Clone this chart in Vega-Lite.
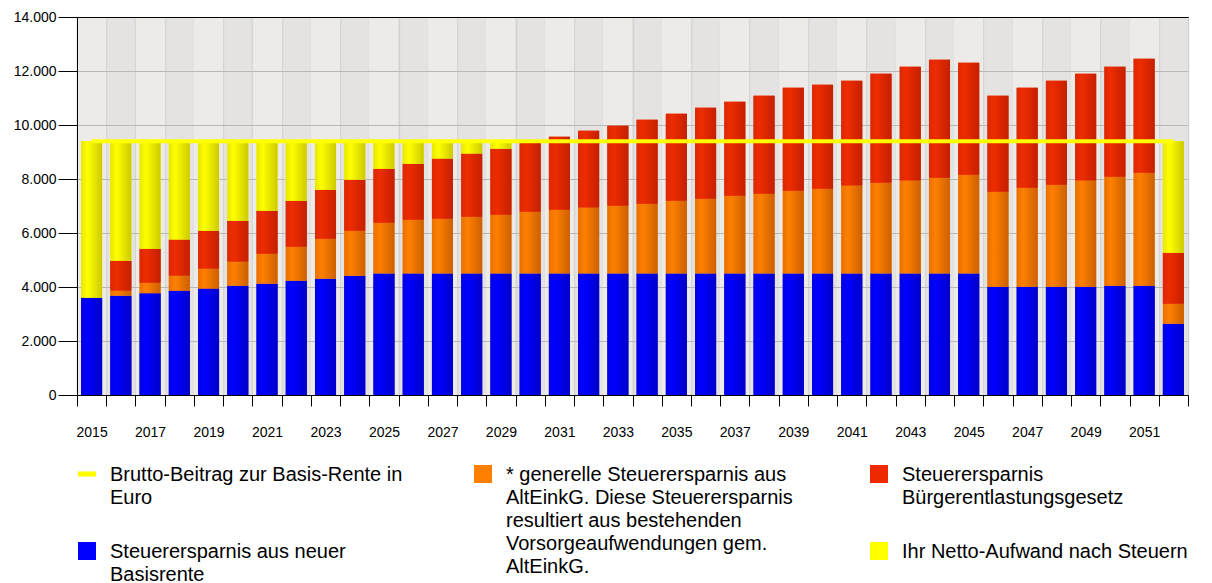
{
  "$schema": "https://vega.github.io/schema/vega-lite/v6.json",
  "width": 1111,
  "height": 378,
  "autosize": {"type": "none"},
  "padding": {"left": 77, "top": 17, "right": 24, "bottom": 188},
  "background": "white",
  "config": {
    "font": "Liberation Sans",
    "view": {"fill": "#E4E3E1", "stroke": "#000000", "strokeWidth": 1},
    "axis": {"labelFont": "Liberation Sans", "labelColor": "#000000", "domainColor": "#000000", "tickColor": "#000000"}
  },
  "data": {
    "values": [
      {"year": 2015, "s1_basis": 3600, "s2_generell": 0, "s3_buerger": 0, "s4_netto": 5800, "brutto": 9400},
      {"year": 2016, "s1_basis": 3680, "s2_generell": 185, "s3_buerger": 1110, "s4_netto": 4425, "brutto": 9400},
      {"year": 2017, "s1_basis": 3765, "s2_generell": 395, "s3_buerger": 1260, "s4_netto": 3980, "brutto": 9400},
      {"year": 2018, "s1_basis": 3865, "s2_generell": 555, "s3_buerger": 1335, "s4_netto": 3645, "brutto": 9400},
      {"year": 2019, "s1_basis": 3940, "s2_generell": 740, "s3_buerger": 1405, "s4_netto": 3315, "brutto": 9400},
      {"year": 2020, "s1_basis": 4050, "s2_generell": 890, "s3_buerger": 1515, "s4_netto": 2945, "brutto": 9400},
      {"year": 2021, "s1_basis": 4125, "s2_generell": 1110, "s3_buerger": 1590, "s4_netto": 2575, "brutto": 9400},
      {"year": 2022, "s1_basis": 4235, "s2_generell": 1260, "s3_buerger": 1700, "s4_netto": 2205, "brutto": 9400},
      {"year": 2023, "s1_basis": 4310, "s2_generell": 1480, "s3_buerger": 1815, "s4_netto": 1795, "brutto": 9400},
      {"year": 2024, "s1_basis": 4420, "s2_generell": 1665, "s3_buerger": 1890, "s4_netto": 1425, "brutto": 9400},
      {"year": 2025, "s1_basis": 4500, "s2_generell": 1880, "s3_buerger": 2000, "s4_netto": 1020, "brutto": 9400},
      {"year": 2026, "s1_basis": 4500, "s2_generell": 1995, "s3_buerger": 2070, "s4_netto": 835, "brutto": 9400},
      {"year": 2027, "s1_basis": 4500, "s2_generell": 2030, "s3_buerger": 2225, "s4_netto": 645, "brutto": 9400},
      {"year": 2028, "s1_basis": 4500, "s2_generell": 2105, "s3_buerger": 2335, "s4_netto": 460, "brutto": 9400},
      {"year": 2029, "s1_basis": 4500, "s2_generell": 2180, "s3_buerger": 2445, "s4_netto": 275, "brutto": 9400},
      {"year": 2030, "s1_basis": 4500, "s2_generell": 2290, "s3_buerger": 2600, "s4_netto": 10, "brutto": 9400},
      {"year": 2031, "s1_basis": 4500, "s2_generell": 2365, "s3_buerger": 2700, "s4_netto": 0, "brutto": 9400},
      {"year": 2032, "s1_basis": 4500, "s2_generell": 2440, "s3_buerger": 2850, "s4_netto": 0, "brutto": 9400},
      {"year": 2033, "s1_basis": 4500, "s2_generell": 2510, "s3_buerger": 2965, "s4_netto": 0, "brutto": 9400},
      {"year": 2034, "s1_basis": 4500, "s2_generell": 2585, "s3_buerger": 3110, "s4_netto": 0, "brutto": 9400},
      {"year": 2035, "s1_basis": 4500, "s2_generell": 2695, "s3_buerger": 3225, "s4_netto": 0, "brutto": 9400},
      {"year": 2036, "s1_basis": 4500, "s2_generell": 2770, "s3_buerger": 3370, "s4_netto": 0, "brutto": 9400},
      {"year": 2037, "s1_basis": 4500, "s2_generell": 2880, "s3_buerger": 3485, "s4_netto": 0, "brutto": 9400},
      {"year": 2038, "s1_basis": 4500, "s2_generell": 2955, "s3_buerger": 3630, "s4_netto": 0, "brutto": 9400},
      {"year": 2039, "s1_basis": 4500, "s2_generell": 3065, "s3_buerger": 3815, "s4_netto": 0, "brutto": 9400},
      {"year": 2040, "s1_basis": 4500, "s2_generell": 3140, "s3_buerger": 3855, "s4_netto": 0, "brutto": 9400},
      {"year": 2041, "s1_basis": 4500, "s2_generell": 3255, "s3_buerger": 3885, "s4_netto": 0, "brutto": 9400},
      {"year": 2042, "s1_basis": 4500, "s2_generell": 3365, "s3_buerger": 4035, "s4_netto": 0, "brutto": 9400},
      {"year": 2043, "s1_basis": 4500, "s2_generell": 3440, "s3_buerger": 4220, "s4_netto": 0, "brutto": 9400},
      {"year": 2044, "s1_basis": 4500, "s2_generell": 3550, "s3_buerger": 4370, "s4_netto": 0, "brutto": 9400},
      {"year": 2045, "s1_basis": 4500, "s2_generell": 3660, "s3_buerger": 4150, "s4_netto": 0, "brutto": 9400},
      {"year": 2046, "s1_basis": 4010, "s2_generell": 3520, "s3_buerger": 3555, "s4_netto": 0, "brutto": 9400},
      {"year": 2047, "s1_basis": 4010, "s2_generell": 3670, "s3_buerger": 3700, "s4_netto": 0, "brutto": 9400},
      {"year": 2048, "s1_basis": 4010, "s2_generell": 3780, "s3_buerger": 3850, "s4_netto": 0, "brutto": 9400},
      {"year": 2049, "s1_basis": 4010, "s2_generell": 3930, "s3_buerger": 3960, "s4_netto": 0, "brutto": 9400},
      {"year": 2050, "s1_basis": 4050, "s2_generell": 4035, "s3_buerger": 4075, "s4_netto": 0, "brutto": 9400},
      {"year": 2051, "s1_basis": 4050, "s2_generell": 4185, "s3_buerger": 4220, "s4_netto": 0, "brutto": 9400},
      {"year": 2052, "s1_basis": 2640, "s2_generell": 740, "s3_buerger": 1890, "s4_netto": 4130, "brutto": 9400}
    ]
  },
  "resolve": {"axis": {"x": "independent"}},
  "layer": [
    {
      "transform": [
        {"fold": ["s1_basis", "s2_generell", "s3_buerger", "s4_netto"], "as": ["key", "value"]},
        {"stack": "value", "groupby": ["year"], "sort": [{"field": "key", "order": "ascending"}], "as": ["v0", "v1"]}
      ],
      "encoding": {
        "x": {
          "field": "year", "type": "ordinal", "title": null,
          "scale": {"paddingInner": 0, "paddingOuter": 0},
          "axis": {
            "tickBand": "extent", "grid": true, "gridColor": "#D2D2D2", "gridWidth": 1.5,
            "tickSize": 11, "tickColor": "#000000", "labelAngle": 0, "labelFontSize": 14,
            "labelPadding": 19, "labelOverlap": false, "domainColor": "#000000",
            "labelExpr": "datum.value % 2 == 1 ? datum.label : ''"
          }
        },
        "y": {
          "field": "v1", "type": "quantitative", "title": null,
          "scale": {"domain": [0, 14000], "nice": false},
          "axis": {
            "values": [0, 2000, 4000, 6000, 8000, 10000, 12000, 14000],
            "tickSize": 19, "labelFontSize": 14, "labelPadding": 2,
            "labelExpr": "replace(datum.label, ',', '.')",
            "gridColor": "#B8B8B8", "gridWidth": 1, "domainColor": "#000000"
          }
        },
        "y2": {"field": "v0"}
      },
      "layer": [
        {
          "mark": {"type": "bar", "width": {"band": 0.72}},
          "encoding": {
            "color": {
              "field": "key", "type": "nominal",
              "scale": {
                "domain": ["brutto", "s1_basis", "s2_generell", "dummy", "s3_buerger", "s4_netto"],
                "range": ["#FFFF00", "#0000FF", "#FF8000", "transparent", "#EE2800", "#FFFF00"]
              },
              "legend": {
                "orient": "none", "legendX": 0, "legendY": 447, "title": null,
                "columns": 3, "gridAlign": "all",
                "columnPadding": 70, "rowPadding": 3, "padding": 0,
                "symbolType": "square", "symbolSize": 324, "symbolStrokeWidth": 0,
                "labelFont": "Liberation Sans", "labelFontSize": 20, "labelColor": "#000000",
                "labelLimit": 600, "labelOffset": 13, "labelBaseline": "top",
                "labelExpr": "datum.value == 'brutto' ? ['Brutto-Beitrag zur Basis-Rente in', 'Euro', ''] : datum.value == 's2_generell' ? ['* generelle Steuerersparnis aus', 'AltEinkG. Diese Steuerersparnis', 'resultiert aus bestehenden'] : datum.value == 'dummy' ? ['Vorsorgeaufwendungen gem.', 'AltEinkG.'] : datum.value == 's3_buerger' ? ['Steuerersparnis', 'Bürgerentlastungsgesetz', ''] : datum.value == 's1_basis' ? ['Steuerersparnis aus neuer', 'Basisrente'] : datum.value == 's4_netto' ? 'Ihr Netto-Aufwand nach Steuern' : ''",
                "encoding": {
                  "symbols": {
                    "shape": {"condition": {"test": "datum.value == 'brutto'", "value": "M-1,-0.28L1,-0.28L1,0.28L-1,0.28Z"}, "value": "square"}
                  },
                  "labels": {
                    "dy": {"condition": {"test": "datum.value == 'dummy'", "value": -17}, "value": -9},
                    "lineHeight": {"value": 23}
                  }
                }
              }
            }
          }
        },
        {
          "transform": [{"filter": "datum.key == 's1_basis'"}],
          "mark": {"type": "bar", "width": {"band": 0.72}, "color": {"gradient": "linear", "x1": 0, "x2": 1, "y1": 0, "y2": 0, "stops": [{"offset": 0, "color": "#0000E4"}, {"offset": 0.3, "color": "#0000FF"}, {"offset": 1, "color": "#0000C8"}]}}
        },
        {
          "transform": [{"filter": "datum.key == 's2_generell'"}],
          "mark": {"type": "bar", "width": {"band": 0.72}, "color": {"gradient": "linear", "x1": 0, "x2": 1, "y1": 0, "y2": 0, "stops": [{"offset": 0, "color": "#E87000"}, {"offset": 0.3, "color": "#FF8000"}, {"offset": 1, "color": "#CC6000"}]}}
        },
        {
          "transform": [{"filter": "datum.key == 's3_buerger'"}],
          "mark": {"type": "bar", "width": {"band": 0.72}, "color": {"gradient": "linear", "x1": 0, "x2": 1, "y1": 0, "y2": 0, "stops": [{"offset": 0, "color": "#DC2800"}, {"offset": 0.3, "color": "#EE2C00"}, {"offset": 1, "color": "#C42000"}]}}
        },
        {
          "transform": [{"filter": "datum.key == 's4_netto'"}],
          "mark": {"type": "bar", "width": {"band": 0.72}, "color": {"gradient": "linear", "x1": 0, "x2": 1, "y1": 0, "y2": 0, "stops": [{"offset": 0, "color": "#E6E600"}, {"offset": 0.3, "color": "#FFFF00"}, {"offset": 1, "color": "#CCCA00"}]}}
        }
      ]
    },
    {
      "mark": {"type": "line", "color": "#FFFF00", "strokeWidth": 4},
      "encoding": {
        "x": {
          "field": "year", "type": "ordinal", "title": null,
          "axis": {
            "orient": "top", "labels": false, "ticks": false, "domain": true, "domainColor": "#000000",
            "grid": true, "gridWidth": 29.24, "bandPosition": 0.5,
            "gridColor": {"condition": {"test": "datum.value % 2 == 1", "value": "#EDEBE8"}, "value": "transparent"}
          }
        },
        "y": {"field": "brutto", "type": "quantitative", "title": null}
      }
    }
  ]
}
